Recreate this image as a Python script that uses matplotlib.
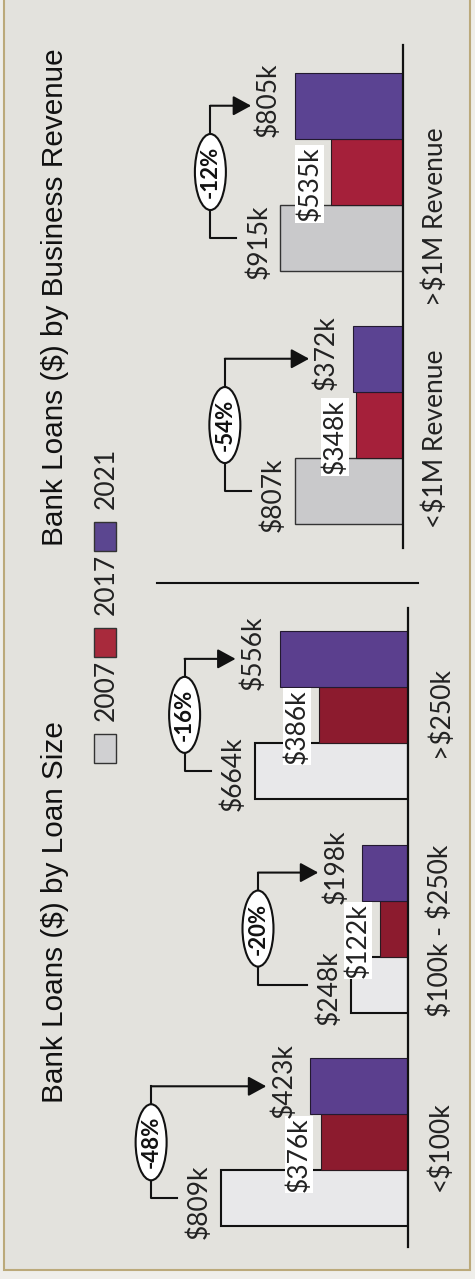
import numpy as np
import matplotlib
matplotlib.use('Agg')
import matplotlib.pyplot as plt
from matplotlib.patches import Rectangle, Ellipse
from matplotlib.lines import Line2D

# dollar signs are plain text here, not math
plt.rcParams['text.parse_math'] = False

# loan amounts in $k
years = ['2007', '2017', '2021']

size_cats = ['<$100k', '$100k - $250k', '>$250k']
size_2007 = [809, 248, 664]
size_2017 = [376, 122, 386]
size_2021 = [423, 198, 556]

rev_cats = ['<$1M Revenue', '>$1M Revenue']
rev_2007 = [807, 915]
rev_2017 = [348, 535]
rev_2021 = [372, 805]

W, H = 475, 1279
LABEL_FONT = 'Lato'
TITLE_FONT = 'Liberation Sans'
BG = '#e3e2dd'
INK = '#222222'
FS = 19


def fx(px):
    return px / W


def fy(py):
    # image rows run downward, figure coords run upward
    return 1 - py / H


def pct(a, b):
    return '%d%%' % round((b - a) / a * 100)


def draw_panel(ax, cats, v07, v17, v21, kpp, c07, c17, c21, e07, lw07, cat_dy):
    pos = np.arange(len(cats))
    h = 0.262
    ax.barh(pos - h, v07, height=h, color=c07, edgecolor=e07, linewidth=lw07, zorder=2)
    ax.barh(pos, v17, height=h, color=c17, edgecolor='#2a1a20', linewidth=0.8, zorder=2)
    ax.barh(pos + h, v21, height=h, color=c21, edgecolor='#231a30', linewidth=0.8, zorder=2)

    for spine in ['left', 'top', 'bottom']:
        ax.spines[spine].set_visible(False)
    ax.spines['right'].set_linewidth(1.6)
    ax.spines['right'].set_color('#111111')
    ax.set_xticks([])
    ax.set_yticks([])
    ax.patch.set_alpha(0)

    # data units per pixel along the category axis
    y0, y1 = ax.get_ylim()
    ypp = (y1 - y0) / (ax.get_position().height * H)

    for i in range(len(cats)):
        ax.annotate('$%dk' % v07[i], xy=(v07[i], pos[i] - h), xytext=(-9, -3),
                    textcoords='offset pixels', rotation=90, ha='right', va='center',
                    fontsize=FS, family=LABEL_FONT, color=INK, zorder=4)
        ax.annotate('$%dk' % v17[i], xy=(v17[i], pos[i]), xytext=(-9, -12),
                    textcoords='offset pixels', rotation=90, ha='right', va='center',
                    fontsize=FS, family=LABEL_FONT, color=INK, zorder=4,
                    bbox=dict(facecolor='white', edgecolor='none', pad=1.0))
        ax.annotate('$%dk' % v21[i], xy=(v21[i], pos[i] + h), xytext=(-14, 6),
                    textcoords='offset pixels', rotation=90, ha='right', va='center',
                    fontsize=FS, family=LABEL_FONT, color=INK, zorder=4)

        # change bracket: from the 2007 label over to the 2021 label
        level = max(max(v07[i], v21[i]) + 70 * kpp, 150 * kpp)
        stub = v07[i] + 44 * kpp
        tip = v21[i] + 44 * kpp
        ax.plot([stub, level, level], [pos[i] - h, pos[i] - h, pos[i] + h],
                color='#111111', lw=1.5, clip_on=False, zorder=3)
        ax.annotate('', xy=(tip, pos[i] + h), xytext=(level, pos[i] + h),
                    arrowprops=dict(arrowstyle='-|>,head_length=0.55,head_width=0.3',
                                    color='#111111', lw=1.5, mutation_scale=20,
                                    shrinkA=0, shrinkB=0),
                    annotation_clip=False, zorder=3)
        ax.add_patch(Ellipse((level, pos[i]), 31 * kpp, 76 * ypp, facecolor='white',
                             edgecolor='#111111', linewidth=1.5, zorder=5, clip_on=False))
        ax.text(level, pos[i], pct(v07[i], v21[i]), rotation=90, ha='center', va='center',
                fontsize=16, fontweight='bold', family=LABEL_FONT, color='#111111', zorder=6)

        # category name sits right of the baseline
        ax.annotate(cats[i], xy=(0, pos[i]), xytext=(32, cat_dy[i]),
                    textcoords='offset pixels', rotation=90, ha='center', va='center',
                    fontsize=FS, family=LABEL_FONT, color=INK, annotation_clip=False)


fig = plt.figure(figsize=(W / 100, H / 100), dpi=100)
fig.patch.set_facecolor('#efeeea')

# page panel with its thin tan border
fig.add_artist(Rectangle((fx(4), fy(1270)), fx(466), 1.2, transform=fig.transFigure,
                         facecolor=BG, edgecolor='#bba97a', linewidth=1.5, zorder=0))

# left panel: loan size
kpp_left = 1 / 0.231
ax1 = fig.add_axes([fx(150), fy(1247), fx(258), (1247 - 608) / H])
ax1.set_xlim(258 * kpp_left, 0)
ax1.set_ylim(-0.49, 2.50)
draw_panel(ax1, size_cats, size_2007, size_2017, size_2021, kpp_left,
           '#e8e8ea', '#8c1b2e', '#5b3f8e', '#111111', 1.5, [-4, -2, 3])

# right panel: business revenue
kpp_right = 1 / 0.134
ax2 = fig.add_axes([fx(150), fy(548), fx(253), (548 - 45) / H])
ax2.set_xlim(253 * kpp_right, 0)
ax2.set_ylim(-0.486, 1.502)
draw_panel(ax2, rev_cats, rev_2007, rev_2017, rev_2021, kpp_right,
           '#c9c9cb', '#a5203a', '#5b4392', '#333333', 1.0, [-14, -45])

# titles
fig.text(fx(55), fy(912), 'Bank Loans ($) by Loan Size', rotation=90, ha='center',
         va='center', fontsize=21.4, family=TITLE_FONT, color='#111111')
fig.text(fx(55), fy(297), 'Bank Loans ($) by Business Revenue', rotation=90, ha='center',
         va='center', fontsize=21.4, family=TITLE_FONT, color='#111111')

# divider between the two panels
fig.add_artist(Line2D([fx(157), fx(418)], [fy(583), fy(583)], color='#111111', lw=1.5))

# legend, stacked along the page
swatch = ['#d0d0d2', '#a82a3c', '#5b4690']
for i, (yr, col) in enumerate(zip(years, swatch)):
    y0 = 763 - 106 * i
    fig.add_artist(Rectangle((fx(94), fy(y0)), fx(22), 29 / H, transform=fig.transFigure,
                             facecolor=col, edgecolor='#333333', linewidth=1.0))
    fig.text(fx(106), fy(y0 - 73), yr, rotation=90, ha='center', va='center',
             fontsize=FS, family=LABEL_FONT, color=INK)

fig.savefig('out.png', dpi=100, facecolor=fig.get_facecolor())
